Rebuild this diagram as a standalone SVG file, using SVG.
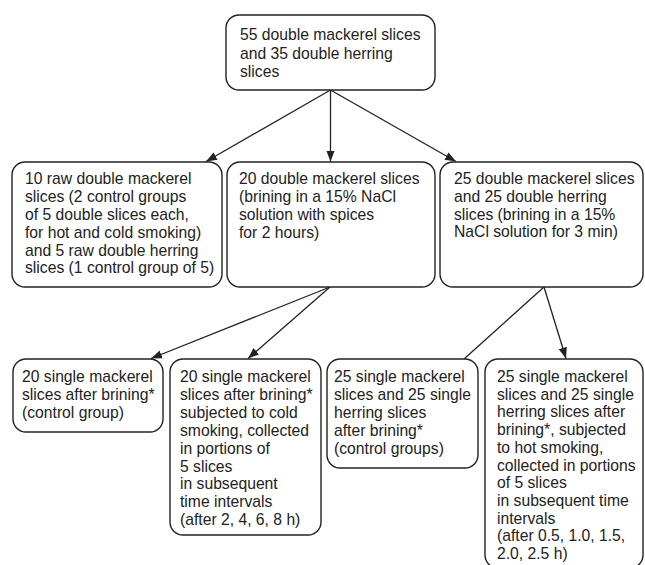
<svg xmlns="http://www.w3.org/2000/svg" width="645" height="565" viewBox="0 0 645 565">
<defs>
<style>
.box{fill:#fff;stroke:#222;stroke-width:1.4}
.t{font-family:"Liberation Sans",Arial,sans-serif;font-size:15.7px;fill:#222}
.c{stroke:#222;stroke-width:1.3;fill:none}
</style>
<marker id="ah" markerUnits="userSpaceOnUse" markerWidth="12" markerHeight="10" viewBox="0 0 12 10" refX="11" refY="5" orient="auto">
<path d="M0,0.8 L11,5 L0,9.2 Z" fill="#222"/>
</marker>
</defs>
<rect width="645" height="565" fill="#fff"/>
<g id="connectors">
<line class="c" x1="330.5" y1="90" x2="206" y2="161.5" marker-end="url(#ah)"/>
<line class="c" x1="330.5" y1="90" x2="330.5" y2="161.5" marker-end="url(#ah)"/>
<line class="c" x1="330.5" y1="90" x2="456" y2="161.5" marker-end="url(#ah)"/>
<line class="c" x1="330" y1="287" x2="151" y2="358.5" marker-end="url(#ah)"/>
<line class="c" x1="330" y1="287" x2="248" y2="358.5" marker-end="url(#ah)"/>
<line class="c" x1="544" y1="287" x2="464" y2="359"/>
<line class="c" x1="544" y1="287" x2="566" y2="358.5" marker-end="url(#ah)"/>
</g>
<g id="n0">
<rect class="box" x="226" y="15" width="209" height="75" rx="13"/>
<text class="t" x="240" y="40"><tspan x="240">55 double mackerel slices</tspan><tspan x="240" dy="18.6">and 35 double herring</tspan><tspan x="240" dy="18.6">slices</tspan></text>
</g>
<g id="n1">
<rect class="box" x="12" y="162" width="210" height="125" rx="13"/>
<text class="t" x="25" y="184.3"><tspan x="25">10 raw double mackerel</tspan><tspan x="25" dy="17.8">slices (2 control groups</tspan><tspan x="25" dy="17.8">of 5 double slices each,</tspan><tspan x="25" dy="17.8">for hot and cold smoking)</tspan><tspan x="25" dy="17.8">and 5 raw double herring</tspan><tspan x="25" dy="17.8">slices (1 control group of 5)</tspan></text>
</g>
<g id="n2">
<rect class="box" x="227" y="162" width="208" height="125" rx="13"/>
<text class="t" x="239" y="184.3"><tspan x="239">20 double mackerel slices</tspan><tspan x="239" dy="17.8">(brining in a 15% NaCl</tspan><tspan x="239" dy="17.8">solution with spices</tspan><tspan x="239" dy="17.8">for 2 hours)</tspan></text>
</g>
<g id="n3">
<rect class="box" x="440" y="162" width="203" height="125" rx="13"/>
<text class="t" x="454" y="184.3"><tspan x="454">25 double mackerel slices</tspan><tspan x="454" dy="17.6">and 25 double herring</tspan><tspan x="454" dy="17.6">slices (brining in a 15%</tspan><tspan x="454" dy="17.6">NaCl solution for 3 min)</tspan></text>
</g>
<g id="n4">
<rect class="box" x="13" y="359" width="150" height="73" rx="13"/>
<text class="t" x="22" y="382"><tspan x="22">20 single mackerel</tspan><tspan x="22" dy="17.9">slices after brining*</tspan><tspan x="22" dy="17.9">(control group)</tspan></text>
</g>
<g id="n5">
<rect class="box" x="170" y="359" width="151" height="176" rx="13"/>
<text class="t" x="180" y="382"><tspan x="180">20 single mackerel</tspan><tspan x="180" dy="17.9">slices after brining*</tspan><tspan x="180" dy="17.9">subjected to cold</tspan><tspan x="180" dy="17.9">smoking, collected</tspan><tspan x="180" dy="17.9">in portions of</tspan><tspan x="180" dy="17.9">5 slices</tspan><tspan x="180" dy="17.9">in subsequent</tspan><tspan x="180" dy="17.9">time intervals</tspan><tspan x="180" dy="17.9">(after 2, 4, 6, 8 h)</tspan></text>
</g>
<g id="n6">
<rect class="box" x="327" y="359" width="151" height="109" rx="13"/>
<text class="t" x="334" y="382"><tspan x="334">25 single mackerel</tspan><tspan x="334" dy="17.9">slices and 25 single</tspan><tspan x="334" dy="17.9">herring slices</tspan><tspan x="334" dy="17.9">after brining*</tspan><tspan x="334" dy="17.9">(control groups)</tspan></text>
</g>
<g id="n7">
<rect class="box" x="485" y="359" width="158" height="209" rx="13"/>
<text class="t" x="497" y="382"><tspan x="497">25 single mackerel</tspan><tspan x="497" dy="17.7">slices and 25 single</tspan><tspan x="497" dy="17.7">herring slices after</tspan><tspan x="497" dy="17.7">brining*, subjected</tspan><tspan x="497" dy="17.7">to hot smoking,</tspan><tspan x="497" dy="17.7">collected in portions</tspan><tspan x="497" dy="17.7">of 5 slices</tspan><tspan x="497" dy="17.7">in subsequent time</tspan><tspan x="497" dy="17.7">intervals</tspan><tspan x="497" dy="17.7">(after 0.5, 1.0, 1.5,</tspan><tspan x="497" dy="17.7">2.0, 2.5 h)</tspan></text>
</g>
</svg>
